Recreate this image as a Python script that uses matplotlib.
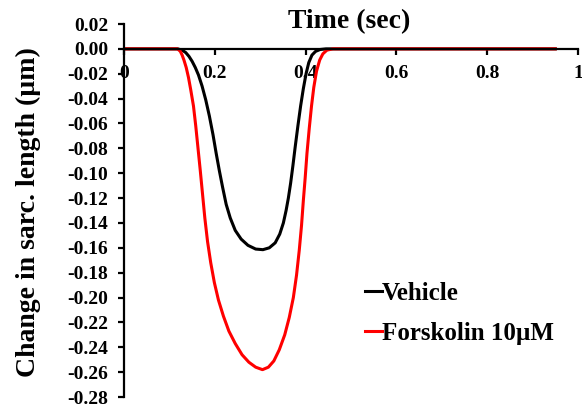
import matplotlib
matplotlib.use("Agg")
import matplotlib.pyplot as plt
import numpy as np

plt.rcParams['font.family'] = ['Liberation Serif', 'DejaVu Serif']
plt.rcParams['font.weight'] = 'bold'
plt.rcParams['axes.unicode_minus'] = False

# Data
vehicle_t = [0.0, 0.10, 0.118, 0.128, 0.136, 0.143, 0.150, 0.157, 0.164, 0.172, 0.180, 0.188,
             0.196, 0.203, 0.210, 0.217, 0.225, 0.234, 0.245, 0.258, 0.273, 0.290, 0.306,
             0.320, 0.333, 0.343, 0.351, 0.357, 0.362, 0.367, 0.372, 0.377, 0.383, 0.389,
             0.395, 0.401, 0.407, 0.414, 0.422, 0.432, 0.445, 0.95]
vehicle_y = [0.0, 0.0, 0.0, -0.001, -0.003, -0.006, -0.010, -0.015, -0.021, -0.030, -0.041, -0.054,
             -0.069, -0.084, -0.098, -0.111, -0.125, -0.136, -0.146, -0.153, -0.158, -0.161, -0.1615,
             -0.160, -0.156, -0.149, -0.140, -0.130, -0.120, -0.108, -0.094, -0.079, -0.062, -0.046,
             -0.032, -0.020, -0.011, -0.005, -0.002, -0.0005, 0.0, 0.0]

forsk_t = [0.0, 0.10, 0.118, 0.124, 0.128, 0.132, 0.137, 0.142, 0.147, 0.153, 0.158, 0.163,
           0.168, 0.173, 0.178, 0.184, 0.191, 0.199, 0.208, 0.219, 0.231, 0.245, 0.260, 0.275,
           0.290, 0.305, 0.318, 0.330, 0.342, 0.354, 0.364, 0.373, 0.380, 0.386, 0.391, 0.395,
           0.399, 0.403, 0.408, 0.413, 0.418, 0.424, 0.431, 0.438, 0.447, 0.460, 0.95]
forsk_y = [0.0, 0.0, 0.0, -0.002, -0.005, -0.009, -0.015, -0.023, -0.033, -0.046, -0.062, -0.080,
           -0.098, -0.117, -0.136, -0.155, -0.172, -0.188, -0.202, -0.215, -0.227, -0.237, -0.246, -0.252,
           -0.256, -0.258, -0.256, -0.251, -0.242, -0.230, -0.216, -0.200, -0.182, -0.162, -0.142, -0.122,
           -0.104, -0.084, -0.064, -0.046, -0.031, -0.018, -0.009, -0.004, -0.001, 0.0, 0.0]

x_ticks = [0, 0.2, 0.4, 0.6, 0.8, 1.0]
x_tick_labels = ["0", "0.2", "0.4", "0.6", "0.8", "1"]
y_ticks = np.round(np.arange(-0.28, 0.021, 0.02), 2)

series_names = ["Vehicle", "Forskolin 10\u00b5M"]
series_colors = ["black", "#ff0000"]

fig = plt.figure(figsize=(5.82, 4.09), dpi=100)
ax = fig.add_axes([0.2131, 0.0293, 0.780, 0.912])

ax.plot(vehicle_t, vehicle_y, color=series_colors[0], lw=2.2, label=series_names[0],
        solid_joinstyle='round')
ax.plot(forsk_t, forsk_y, color=series_colors[1], lw=2.2, label=series_names[1],
        solid_joinstyle='round')

ax.set_xlim(0, 1)
ax.set_ylim(-0.28, 0.02)
ax.spines['top'].set_visible(False)
ax.spines['right'].set_visible(False)
ax.spines['bottom'].set_position(('data', 0))
for s in ['left', 'bottom']:
    ax.spines[s].set_linewidth(1.6)

ax.set_xticks(x_ticks)
ax.set_xticklabels(x_tick_labels, fontsize=14, fontweight='bold')
ax.set_yticks(y_ticks)
ax.set_yticklabels([f"{v:.2f}".replace("-0.00", "0.00") for v in y_ticks],
                   fontsize=14, fontweight='bold')
ax.tick_params(axis='both', direction='out', length=4.5, width=1.6)
ax.tick_params(axis='y', pad=7)
ax.tick_params(axis='x', pad=7)

fig.text(0.6, 1 - 28 / 409, "Time (sec)", ha='center', va='baseline',
         fontsize=20, fontweight='bold')
fig.text(0.048, 0.482, "Change in sarc. length (\u00b5m)", ha='center', va='center',
         rotation=90, fontsize=20, fontweight='bold')

leg = ax.legend(loc='upper left', bbox_to_anchor=(0.531, 0.308), frameon=False,
                handlelength=0.68, handletextpad=0.0, labelspacing=0.66,
                borderpad=0, borderaxespad=0,
                prop={'size': 18, 'weight': 'bold'})

fig.savefig("out.png", dpi=100)
